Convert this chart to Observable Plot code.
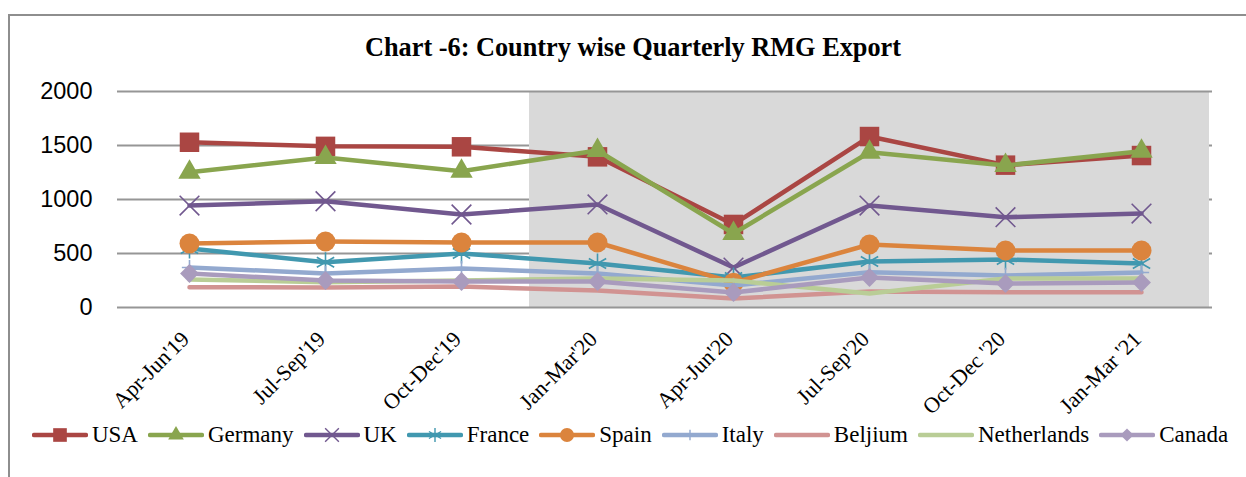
<!DOCTYPE html>
<html>
<head>
<meta charset="utf-8">
<script src="https://cdn.jsdelivr.net/npm/d3@7"></script>
<script src="https://cdn.jsdelivr.net/npm/@observablehq/plot@0.6"></script>
<style>
  body { margin: 0; background: #fff; width: 1246px; height: 477px; overflow: hidden; position: relative; }
  #frame { position: absolute; left: 8px; top: 14px; width: 1400px; height: 600px; border: 2px solid #8e8e8e; box-sizing: border-box; }
  #title { position: absolute; left: 10px; top: 35px; width: 1246px; text-align: center; font: bold 26.3px "Liberation Serif", serif; line-height: 26px; color: #000; }
  #chart { position: absolute; left: 0; top: 0; }
  #legend { position: absolute; left: 12px; top: 421px; width: 1246px; display: flex; justify-content: center; align-items: center; font: 23px "Liberation Serif", serif; line-height: 28px; color: #000; }
  .item { display: flex; align-items: center; margin-right: 10px; }
  .item svg { margin-right: 4px; }
</style>
</head>
<body>
<div id="frame"></div>
<div id="chart"></div>
<div id="title">Chart -6: Country wise Quarterly RMG Export</div>
<div id="legend"></div>
<script>
const quarters = ["Apr-Jun'19", "Jul-Sep'19", "Oct-Dec'19", "Jan-Mar'20", "Apr-Jun'20", "Jul-Sep'20", "Oct-Dec '20", "Jan-Mar '21"];
const shadedQuarters = ["Jan-Mar'20", "Apr-Jun'20", "Jul-Sep'20", "Oct-Dec '20", "Jan-Mar '21"];
const yTicks = [0, 500, 1000, 1500, 2000];

const countries = ["USA", "Germany", "UK", "France", "Spain", "Italy", "Beljium", "Netherlands", "Canada"];
const usa         = [1530, 1492, 1488, 1395, 769, 1583, 1318, 1407];
const germany     = [1253, 1389, 1262, 1454, 685, 1438, 1315, 1447];
const uk          = [944, 984, 861, 954, 370, 944, 836, 870];
const france      = [546, 419, 500, 407, 278, 426, 444, 407];
const spain       = [593, 611, 602, 602, 230, 583, 528, 528];
const italy       = [370, 315, 361, 315, 204, 327, 296, 324];
const beljium     = [188, 185, 194, 157, 83, 148, 142, 142];
const netherlands = [259, 234, 250, 268, 250, 130, 268, 268];
const canada      = [315, 250, 241, 241, 139, 278, 222, 231];

const seriesValues = [usa, germany, uk, france, spain, italy, beljium, netherlands, canada];
const colors  = ["#AA4643", "#89A54E", "#71588F", "#4198AF", "#DB843D", "#93A9CF", "#D19392", "#B9CD96", "#A99BBD"];
const symbols = ["square", "triangle", "times", "asterisk", "circle", "plus", null, null, "diamond2"];
const radii   = [11, 8.3, 9, 9.5, 10, 5, 0, 0, 8.5];
const strokeSymbols = new Set(["times", "asterisk", "plus"]);

const series = countries.map((name, i) => ({
  name, color: colors[i], symbol: symbols[i], r: radii[i],
  rows: quarters.map((q, j) => ({q, v: seriesValues[i][j]}))
}));

const marks = [
  Plot.ruleY([500, 1000, 1500], {stroke: "#969696", strokeWidth: 2}),
  Plot.barY(shadedQuarters, {x: d => d, y1: 0, y2: 2000, fill: "#d9d9d9", inset: 0}),
  Plot.ruleY([0, 2000], {stroke: "#969696", strokeWidth: 2}),
  Plot.axisY({ticks: yTicks, tickSize: 0, tickPadding: 25, fontSize: 23.5, fontFamily: "Liberation Sans", label: null, tickFormat: d => String(d)}),
  Plot.axisX({tickSize: 0, tickPadding: 28, tickRotate: -45, fontSize: 22, fontFamily: "Liberation Serif", fontWeight: "normal", label: null, dx: -4})
];
for (const s of series) {
  marks.push(Plot.line(s.rows, {x: "q", y: "v", stroke: s.color, strokeWidth: 4.5, strokeLinejoin: "round", strokeLinecap: "round"}));
  if (s.symbol) {
    if (strokeSymbols.has(s.symbol)) {
      marks.push(Plot.dot(s.rows, {x: "q", y: "v", symbol: s.symbol, r: s.r, stroke: s.color, strokeWidth: 1.6, fill: "none"}));
    } else {
      marks.push(Plot.dot(s.rows, {x: "q", y: "v", symbol: s.symbol, r: s.r, fill: s.color, stroke: "none"}));
    }
  }
}

const chart = Plot.plot({
  width: 1246,
  height: 420,
  marginLeft: 117,
  marginRight: 34,
  marginTop: 91,
  marginBottom: 113,
  style: {background: "transparent", color: "#000", overflow: "visible"},
  x: {type: "band", domain: quarters, padding: 0, axis: null},
  y: {domain: [0, 2000], axis: null},
  marks
});
document.getElementById("chart").appendChild(chart);

// Legend
const symMap = {square: d3.symbolSquare, triangle: d3.symbolTriangle, times: d3.symbolTimes, asterisk: d3.symbolAsterisk, circle: d3.symbolCircle, plus: d3.symbolPlus, diamond2: d3.symbolDiamond2};
const legend = d3.select("#legend");
for (const s of series) {
  const item = legend.append("div").attr("class", "item");
  const svg = item.append("svg").attr("width", 56).attr("height", 22);
  svg.append("line").attr("x1", 2).attr("x2", 54).attr("y1", 11).attr("y2", 11)
    .attr("stroke", s.color).attr("stroke-width", 4.5).attr("stroke-linecap", "round");
  if (s.symbol) {
    const rr = s.r * 0.7;
    const path = d3.symbol(symMap[s.symbol], Math.PI * rr * rr)();
    const p = svg.append("path").attr("d", path).attr("transform", "translate(28,11)");
    if (strokeSymbols.has(s.symbol)) p.attr("fill", "none").attr("stroke", s.color).attr("stroke-width", 1.4);
    else p.attr("fill", s.color);
  }
  item.append("span").text(s.name);
}
</script>
</body>
</html>
